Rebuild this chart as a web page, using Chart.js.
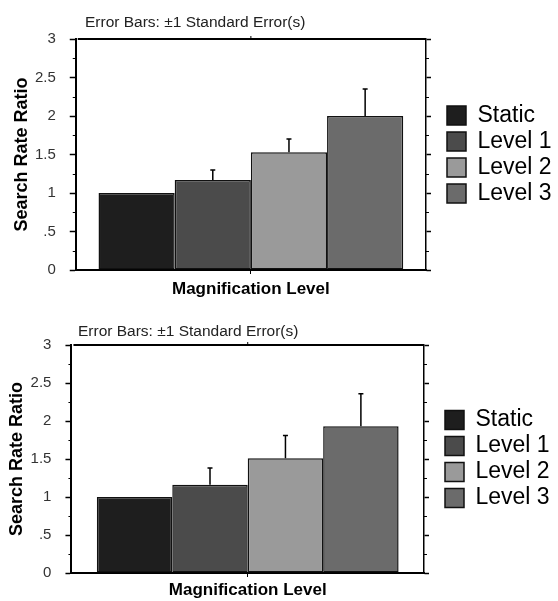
<!DOCTYPE html>
<html lang="en">
<head>
<meta charset="UTF-8">
<title>Search Rate Ratio by Magnification Level</title>
<script src="https://cdn.jsdelivr.net/npm/chart.js"></script>
<style>
  body { margin: 0; background: #fff; font-family: "Liberation Sans", Arial, sans-serif; }
  .panel { position: absolute; left: 0; width: 558px; }
  #top { top: 0; height: 300px; }
  #bottom { top: 300px; height: 301px; }
  .nota { position: absolute; font-size: 15.5px; color: #222; white-space: nowrap; z-index: 2; }
</style>
</head>
<body>
<div class="panel" id="top"><canvas id="chart1"></canvas></div>
<div class="panel" id="bottom"><canvas id="chart2"></canvas></div>
<div class="nota" style="left:85px; top:13px">Error Bars: ±1 Standard Error(s)</div>
<div class="nota" style="left:78px; top:322px">Error Bars: ±1 Standard Error(s)</div>

<script>
    // data
    const series = ['Static', 'Level 1', 'Level 2', 'Level 3'];
    const yTicks = ['0', '.5', '1', '1.5', '2', '2.5', '3'];
    const topMeans = [1.0, 1.17, 1.53, 2.0];
    const topErrors = [0, 0.13, 0.17, 0.35];
    const bottomMeans = [1.0, 1.16, 1.51, 1.93];
    const bottomErrors = [0, 0.22, 0.30, 0.43];

    const colours = ['#1e1e1e', '#4b4b4b', '#9a9a9a', '#6b6b6b'];

    Chart.defaults.font.family = '"Liberation Sans", Arial, sans-serif';

    // upward error bars with a small cap
    const errorBars = {
        id: 'errorBars',
        afterDatasetsDraw(chart, args, opts) {
            const ctx = chart.ctx, y = chart.scales.y;
            ctx.save();
            ctx.strokeStyle = '#000';
            ctx.lineWidth = 1.5;
            chart.data.datasets.forEach((ds, i) => {
                const e = opts.values[i];
                if (!e) return;
                const bar = chart.getDatasetMeta(i).data[0];
                const top = y.getPixelForValue(ds.data[0] + e);
                ctx.beginPath();
                ctx.moveTo(bar.x, bar.y);
                ctx.lineTo(bar.x, top);
                ctx.moveTo(bar.x - 2.5, top);
                ctx.lineTo(bar.x + 2.5, top);
                ctx.stroke();
            });
            ctx.restore();
        }
    };

    // top border, centre tick and short minor ticks on both y axes
    const frame = {
        id: 'frame',
        afterDraw(chart) {
            const ctx = chart.ctx, a = chart.chartArea, y = chart.scales.y;
            ctx.save();
            ctx.strokeStyle = '#000';
            ctx.lineWidth = 2;
            ctx.beginPath();
            ctx.moveTo(a.left + 2, a.top);
            ctx.lineTo(a.right, a.top);
            ctx.stroke();
            ctx.lineWidth = 1;
            ctx.beginPath();
            const cx = chart.scales.x.getPixelForValue(0);
            ctx.moveTo(cx, a.top);
            ctx.lineTo(cx, a.top - 3);
            for (let v = 0.25; v < 3; v += 0.5) {
                const py = Math.round(y.getPixelForValue(v)) + 0.5;
                ctx.moveTo(a.left - 3, py);
                ctx.lineTo(a.left, py);
                ctx.moveTo(a.right, py);
                ctx.lineTo(a.right + 3, py);
            }
            ctx.stroke();
            ctx.restore();
        }
    };

    function makeChart(id, means, errors, lay) {
        const datasets = series.map((name, i) => ({
            label: name,
            data: [means[i]],
            backgroundColor: colours[i],
            borderColor: '#111',
            borderWidth: 1.5,
            borderSkipped: false,
            categoryPercentage: lay.catPct,
            barPercentage: 1
        }));
        return new Chart(document.getElementById(id), {
            type: 'bar',
            data: { labels: [''], datasets: datasets },
            plugins: [errorBars, frame],
            options: {
                responsive: true,
                maintainAspectRatio: false,
                animation: false,
                layout: { padding: { left: lay.padLeft, top: lay.padTop, right: 0, bottom: 0 } },
                plugins: {
                    tooltip: { enabled: false },
                    errorBars: { values: errors },
                    legend: {
                        position: 'right',
                        fullSize: false,
                        maxWidth: lay.legendMax,
                        labels: { boxWidth: 19, boxHeight: 19, padding: 3, color: '#000', font: { size: 23 } }
                    }
                },
                scales: {
                    x: {
                        grid: { drawOnChartArea: false, offset: false, tickLength: 4, tickColor: '#000', tickWidth: 1 },
                        border: { color: '#000', width: 2 },
                        ticks: { display: false },
                        title: {
                            display: true, text: 'Magnification Level', color: '#000',
                            font: { size: 17, weight: 'bold' },
                            padding: { top: lay.xTitlePad, bottom: 0 }
                        }
                    },
                    y: {
                        min: 0, max: 3,
                        ticks: { stepSize: 0.5, padding: 14, color: '#333', font: { size: 15 },
                                 callback: v => yTicks[Math.round(v * 2)] },
                        grid: { drawOnChartArea: false, tickLength: 6, tickColor: '#000', tickWidth: 1.5 },
                        border: { color: '#000', width: 2 },
                        title: {
                            display: true, text: 'Search Rate Ratio', color: '#000',
                            font: { size: 18, weight: 'bold' },
                            padding: { top: 0, bottom: -11.7 }
                        }
                    },
                    y1: {
                        position: 'right',
                        min: 0, max: 3,
                        ticks: { stepSize: 0.5, padding: 6.5, callback: () => '' },
                        grid: { drawOnChartArea: false, tickLength: 5, tickColor: '#000', tickWidth: 1.5 },
                        border: { color: '#000', width: 1.5 }
                    }
                }
            }
        });
    }

    makeChart('chart1', topMeans, topErrors, { padLeft: 11, padTop: 39, xTitlePad: 5.6, catPct: 0.87, legendMax: 114 });
    makeChart('chart2', bottomMeans, bottomErrors, { padLeft: 6.7, padTop: 45, xTitlePad: 3.6, catPct: 0.856, legendMax: 116 });
</script>
</body>
</html>
